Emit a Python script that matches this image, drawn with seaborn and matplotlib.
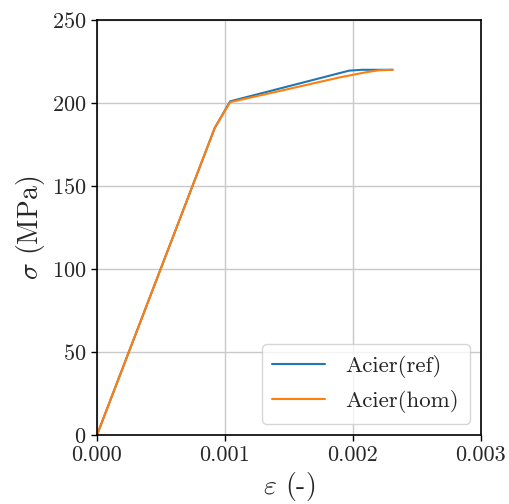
import numpy as np
import pandas as pd
import matplotlib
matplotlib.use("Agg")
import matplotlib.pyplot as plt
import seaborn as sns

# strain / stress points
eps_ref = [0.0, 0.00092, 0.00104, 0.00197, 0.00207, 0.00231]
sig_ref = [0.0, 185.0, 201.0, 219.5, 220.0, 220.0]

eps_hom = [0.0, 0.00092, 0.00104, 0.0015, 0.0019, 0.0020, 0.0021, 0.0022, 0.00231]
sig_hom = [0.0, 185.0, 200.5, 208.5, 215.5, 217.0, 218.5, 219.7, 220.0]

labels = ["Acier(ref)", "Acier(hom)"]

df = pd.concat([
    pd.DataFrame({"eps": eps_ref, "sig": sig_ref, "mat": labels[0]}),
    pd.DataFrame({"eps": eps_hom, "sig": sig_hom, "mat": labels[1]}),
])

sns.set_style("ticks")
plt.rcParams["font.family"] = ["cmr10", "DejaVu Sans"]
plt.rcParams["mathtext.fontset"] = "cm"
plt.rcParams["axes.formatter.use_mathtext"] = True
plt.rcParams["axes.unicode_minus"] = False

fig = plt.figure(figsize=(5.09, 5.04), dpi=100)
ax = fig.add_axes([97 / 509, 1 - 435 / 504, 384 / 509, 415 / 504])

sns.lineplot(data=df, x="eps", y="sig", hue="mat", sort=False, estimator=None,
             palette=["#1f77b4", "#ff7f0e"], linewidth=1.5, ax=ax)

ax.set_xlim(0, 0.003)
ax.set_ylim(0, 250)
ax.set_xticks([0.0, 0.001, 0.002, 0.003])
ax.set_xticklabels(["0.000", "0.001", "0.002", "0.003"])
ax.set_yticks([0, 50, 100, 150, 200, 250])
ax.grid(True, color="#c8c8c8", linewidth=1.0)
ax.tick_params(labelsize=16, color="black", width=1, length=4)
for s in ax.spines.values():
    s.set_color("black")
    s.set_linewidth(1.2)

ax.set_xlabel(r"$\varepsilon$ (-)", fontsize=20)
ax.set_ylabel(r"$\sigma$ (MPa)", fontsize=20)

leg = ax.legend(title=None, loc="lower right", fontsize=16.5, frameon=True,
                handlelength=2.3, handletextpad=0.9, borderpad=0.45,
                labelspacing=0.55)
leg.get_frame().set_edgecolor("#cccccc")

fig.savefig("out.png", dpi=100)
